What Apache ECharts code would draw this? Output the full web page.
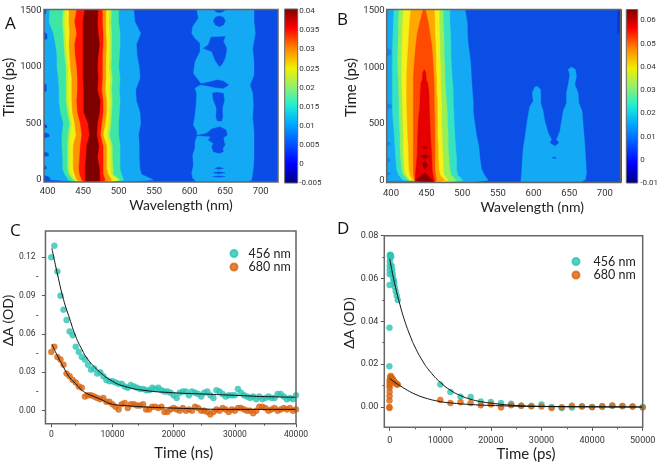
<!DOCTYPE html>
<html><head><meta charset="utf-8">
<style>html,body{margin:0;padding:0;background:#fff}#c{width:661px;height:465px}</style>
<script src="https://cdn.jsdelivr.net/npm/echarts@6/dist/echarts.min.js"></script>
</head><body><div id="c"></div>
<script>
// ---------- shared tick labels ----------
const wavelengthTicks=[400,450,500,550,600,650,700];
const timeTicks=[0,500,1000,1500];
const cbTicksA=[-0.005,0,0.005,0.01,0.015,0.02,0.025,0.03,0.035,0.04];
const cbTicksB=[-0.01,0,0.01,0.02,0.03,0.04,0.05,0.06];
const cTicksX=[0,10000,20000,30000,40000], cMinorX=[5000,15000,25000,35000];
const cTicksY=[0,0.03,0.06,0.09,0.12], cMinorY=[0.015,0.045,0.075,0.105];
const dTicksX=[0,10000,20000,30000,40000,50000], dMinorX=[5000,15000,25000,35000,45000];
const dTicksY=[0,0.02,0.04,0.06,0.08], dMinorY=[0.01,0.03,0.05,0.07];
// ---------- panel A: contour edges (nm) per time row ----------
const rowTimes=[1515,1400,1300,1200,1100,1000,900,800,700,600,500,400,300,200,100,50,0,-20];
const A1=[403,402,408,411,413,413,415,416,416,418,422,420,420,421,421,424,429,438];
const A2=[422,421,422,423,424,426,426,426,426,428,431,429,428,428,428,430,436,443];
const A2b=[425,424,425,426,427,429,429,429,429,431,434,432,431,431,431,433,439,445];
const A3=[430,430,431,430,431,432,434,434,434,435,438,440,436,436,436,438,441,448];
const A4=[441,438,441,438,439,441,442,442,441,442,446,448,446,445,444,445,448,451];
const A5=[452,450,450,450,450,450,450,451,451,451,457,459,455,454,453,453,453,455];
const A6=[471,470,471,473,471,470,471,470,474,473,470,469,472,470,473,473,474,471];
const A7=[477,477,478,478,477,477,477,476,478,478,476,474,478,478,478,478,481,476];
const A8=[482,482,482,483,482,482,482,481,483,483,481,478,483,483,483,485,490,481];
const A8b=[487,486,487,487,487,486,488,487,488,487,486,484,488,488,489,489,499,485];
const A9=[490,489,490,490,490,489,491,490,491,490,489,487,491,491,492,492,502,487];
const A10=[500,500,502,502,501,500,502,501,502,501,500,500,502,502,502,504,507,495];
const A11=[521,523,531,525,526,529,530,524,525,530,531,528,529,529,530,532,549,510];
const aRedRegion=[[609.9,1515],[612.2,1432],[604.2,1358],[602.8,1299],[607.5,1255],[614.6,1211],[614.6,1137],[607.5,1048],[605.2,945],[612.2,886],[617,847],[607.5,812],[609.9,768],[609,664],[607.5,576],[605.2,487],[609.9,434],[610.8,393],[607.5,340],[607.5,281],[604.2,221],[605.2,133],[602.8,59],[604.2,15],[609.9,-20],[680.3,-20],[687.3,0],[689.7,103],[690.6,192],[690.6,310],[690.6,428],[688.7,546],[689.7,664],[688.7,768],[685,842],[690.6,930],[690.6,1048],[688.7,1166],[692.5,1299],[690.6,1403],[690.6,1515]];
const aIslands=[
 [[633.4,1515],[637,1491],[642.7,1482],[648.4,1497],[651.2,1515]],
 [[633.4,1409],[636.2,1441],[641.8,1453],[647.4,1441],[650.3,1409],[647.4,1373],[641.8,1358],[636.2,1373]],
 [[630,1264],[649.8,1270],[647.4,1226],[651.2,1181],[652.1,1152],[649.8,1078],[645,1019],[641.8,1004],[635.7,1063],[631,1137],[619.3,1166],[626.3,1196]],
 [[612.2,847],[626.3,865],[638,886],[647.4,877],[654.9,842],[647.4,812],[635.7,818],[626.3,833]],
 [[632,768],[638,777],[647.4,768],[648.8,709],[646,635],[646.5,561],[645,523],[639,523],[637.1,561],[638,635],[633.4,709]],
 [[624,413],[631,452],[642.7,472],[651.2,443],[653,399],[647.4,375],[648.4,340],[649.8,310],[646.5,281],[647.4,251],[641.8,236],[633.4,251],[631,295],[633.4,325],[626.3,354],[629.6,384]],
 [[609.9,393],[628,418],[630,385]],
 [[635.7,103],[641,112],[647.4,103],[641,94]],
 [[633.4,63],[641,72],[649.8,63],[641,54]],
 [[632,30],[641,36],[650,30],[641,24]],
 // left edge blobs
 [[394,1515],[398,1515],[397,1470],[394,1465]],
 [[394,1314],[399,1290],[399,1250],[394,1240]],
 [[394,870],[398,840],[398,790],[394,770]],
 [[394,502],[399,480],[399,465],[394,458]],
 [[394,422],[402,405],[402,385],[394,369]],
 [[394,251],[401,235],[401,215],[394,207]],
 [[394,133],[398,118],[398,100],[394,89]],
 [[394,44],[402,25],[404,-2],[425,-12],[438,-20],[394,-20]]
];
// ---------- panel B: contour edges (nm) per time row ----------
const B1=[404.2,403.3,402.8,402.3,401.9,401.9,401.9,401.9,401.9,402.3,403.3,404.7,405.6,406.5,407.9,410.3,417.3,431.3];
const B2=[411.2,410.3,410.3,409.8,409.3,409.3,410.3,410.7,411.2,411.2,411.7,412.6,412.6,413.5,415,417.3,424.3,436];
const B3=[417.3,416.4,415.9,415.4,415,415,415,415.4,415.9,416.4,416.8,417.3,417.3,417.8,418.7,420.6,426.6,438.3];
const B4=[428,426.2,425.2,424.3,423.4,422.4,422,422,422,422.4,422.9,423.4,424.3,424.8,425.2,426.6,431.3,440.6];
const B5=[445.3,440.6,436.9,435,433.6,432.2,431.3,431.3,431.3,431.3,431.3,431.3,431.3,431.3,431.3,431.8,433.6,443];
const B7=[448.1,452.3,454.6,457,458.4,459.3,460.2,460.7,460.7,461.2,461.6,461.6,461.6,461.6,461.6,462.6,464,454.6];
const B8=[460.7,461.6,461.6,462.6,463,463,464,464,464.9,464.9,465.4,465.4,466.3,466.3,467.3,468.7,475.7,461.6];
const B9=[467.7,467.7,468.2,468.7,468.7,469.6,469.6,470,471,471,471,471.9,471.9,473.3,473.3,474.7,480.3,468.7];
const B10=[473.3,473.3,474.3,474.7,474.7,475.7,475.7,476.6,478,478.9,479.4,480.3,480.3,481.3,482.7,484.1,492,475.7];
const B11=[482.7,482.7,483.6,484.1,484.1,485,485.9,487.3,487.3,488.3,488.7,489.7,490.6,492,492,493.4,501.3,482.7];
const B12=[503.7,507,507.4,508.4,510.7,512.1,513,514,515.4,515.4,517.7,520,523.3,524.7,527,530.8,536.4,505];
const bRed=[[446.7,979],[444.4,950],[443.9,891],[442,862],[441.1,788],[440.6,671],[438.3,523],[437.4,376],[436.9,229],[434.6,82],[433.6,-20],[461.6,-20],[460.7,0],[457.9,82],[457,229],[455.6,376],[454.6,523],[453.7,671],[453.2,788],[451.4,862],[449.5,891],[449,950]];
const bDark=[
 [[443.9,291],[447.6,303],[451.4,291],[447.6,279]],
 [[442,212],[447.6,229],[453.2,212],[447.6,194]],
 [[444,145],[447.6,176],[451.4,135],[447.6,97]],
 [[447.6,68],[454.6,24],[461.6,-20],[431.3,-20],[439.2,24]]
];
const bPeaks=[[582.2,-12],[582.2,0],[583.2,68],[584.1,171],[585.5,288],[587.8,376],[591.1,523],[593.4,612],[594.8,656],[599.5,700],[598.1,773],[601.8,826],[605.1,832],[609.8,803],[610.2,729],[610.2,676],[613.5,612],[615.8,523],[620.5,421],[625.2,362],[622.8,332],[629.9,303],[635.9,332],[632.2,362],[636.9,435],[641.5,612],[646.2,685],[646.2,773],[648.5,847],[650.9,935],[648.5,979],[653.2,1003],[658.8,979],[660.2,920],[657.9,847],[662.5,773],[663.5,685],[668.1,612],[669.5,494],[671.9,318],[673.3,171],[674.2,68],[672.8,9],[667.2,-12]];
const bBlueDash=[[626,200],[629,205],[632,200],[629,195]];
const bEdgeBlobs=[
 [[394,1170],[400,1150],[400,1115],[394,1097]],
 [[394,685],[401,665],[401,645],[394,626]],
 [[394,345],[399,330],[399,320],[394,305]],
 [[394,200],[399,185],[399,175],[394,160]],
 [[394,80],[399,65],[399,55],[394,40]],
 [[394,-5],[430,-5],[445,-20],[394,-20]]
];
const bCorner=[[718,1515],[722,1515],[720,1300],[718,1300]];
// ---------- panel C ----------
const cTime=[0,500,1000,1500,2000,2500,3000,3500,4000,4500,5000,5500,6000,6500,7000,7500,8000,8500,9000,9500,10000,10500,11000,11500,12000,12500,13000,13500,14000,14500,15000,15500,16000,16500,17000,17500,18000,18500,19000,19500,20000,20500,21000,21500,22000,22500,23000,23500,24000,24500,25000,25500,26000,26500,27000,27500,28000,28500,29000,29500,30000,30500,31000,31500,32000,32500,33000,33500,34000,34500,35000,35500,36000,36500,37000,37500,38000,38500,39000,39500,40000];
const c456=[.120,.129,.109,.090,.079,.071,.062,.059,.050,.046,.042,.040,.036,.032,.033,.029,.030,.027,.024,.023,.023,.022,.021,.021,.019,.018,.020,.019,.018,.017,.017,.016,.016,.018,.017,.018,.016,.015,.015,.014,.012,.010,.014,.015,.015,.012,.015,.014,.013,.011,.014,.015,.012,.010,.016,.015,.013,.011,.012,.012,.012,.017,.014,.012,.011,.010,.011,.009,.011,.009,.010,.011,.010,.010,.013,.013,.011,.009,.010,.009,.012];
const c680=[.046,.050,.042,.040,.036,.029,.027,.024,.022,.019,.018,.011,.012,.012,.011,.010,.009,.010,.007,.007,.005,.003,.001,.005,.006,.002,.005,.005,.004,.004,.005,.001,.001,.003,.003,.002,.003,-.001,-.001,.001,.002,.001,0,.002,0,.001,0,.003,.002,0,0,-.001,-.003,-.001,.001,0,.002,.001,-.001,.001,0,.002,.002,.001,0,0,-.002,0,.003,.003,.002,0,.001,.002,0,.001,.002,.001,.002,0,.001];
const cFit456X=[100,1000,2000,3000,4000,5000,6000,8000,10000,12000,15000,20000,25000,30000,35000,40000];
const cFit456=[.127,.107,.087,.072,.058,.048,.040,.030,.023,.019,.016,.014,.013,.012,.011,.0105];
const cFit680X=[100,1000,2000,3000,4000,5000,6000,7000,8000,10000,12000,15000,20000,30000,40000];
const cFit680=[.052,.043,.034,.026,.021,.016,.013,.011,.009,.005,.004,.003,.002,.001,.001];
// ---------- panel D ----------
const d456T=[-60,-40,-20,-10,0,10,20,30,50,100,200,300,400,500,600,700,800,900,1000,1200,1400,1600,10000,12000,14000,16000,18000,20000,22000,24000,26000,28000,30000,32000,34000,36000,38000,40000,42000,44000,46000,48000,50000];
const d456=[.019,.037,.057,.062,.064,.066,.068,.070,.071,.071,.071,.070,.066,.064,.062,.060,.059,.058,.056,.054,.052,.050,.0105,.007,.0048,.0047,.0025,.0023,.0018,.0015,.0006,.0005,.0012,0,-.0005,-.0003,.0003,0,0,.0005,.0003,.0002,0];
const d680T=[-60,-50,-40,-30,-20,-10,0,10,20,40,60,100,200,300,400,500,600,700,800,1000,1200,1400,1600,10000,12000,14000,16000,18000,20000,22000,24000,26000,28000,30000,32000,34000,36000,38000,40000,42000,44000,46000,48000,50000];
const d680=[0,-.0005,.003,.005,.007,.009,.010,.011,.012,.0125,.013,.014,.0145,.014,.0135,.013,.013,.0125,.012,.0115,.011,.0105,.0105,.0033,.0018,.0022,.0018,.0008,.0012,-.0002,.0008,.0006,.0003,.0002,-.0005,-.0001,.0006,.0002,-.0001,.0004,.0007,.0005,.0002,-.0002];
const dFit456X=[0,1000,2000,3000,4000,5000,6500,8000,10000,12000,14000,16000,18000,21000,25000,30000,40000,50000];
const dFit456=[.0692,.0575,.0480,.0400,.0335,.0280,.0215,.0165,.0115,.0078,.0053,.0036,.0025,.0015,.0007,.0003,.0001,0];
const dFit680X=[0,1000,2000,3500,5000,7000,10000,12000,15000,20000,30000,50000];
const dFit680=[.0134,.0115,.0100,.0078,.0060,.0042,.0025,.0019,.0013,.0007,.0002,0];
// ---------- styles ----------
const colA={blue:'#0a4ce6',lb:'#14a9f5',teal:'#3de6a6',green:'#b4f040',yellow:'#f0f018',orange:'#ff9400',red:'#ff1500',dark:'#800000'};
const colB={blue:'#0a4ee6',lb:'#14a9f5',edge:'#1a84ee',teal:'#35e2c4',green:'#96f058',yellow:'#f4f018',orange:'#ffa800',redor:'#ff4a00',red:'#e60000',dark:'#900000'};
const jet=[[0,'#00007f'],[.11,'#0000ff'],[.35,'#00b0ff'],[.45,'#20f0d0'],[.55,'#90f070'],[.66,'#f0f000'],[.78,'#ff8000'],[.89,'#ff0000'],[1,'#7f0000']];
const TICK='#333', FRAME='#666', FONT='Roboto', TFONT='Lato';
const band=(L,R)=>{const l=L.map((v,j)=>[v,rowTimes[j]]),r=R.map((v,j)=>[v,rowTimes[j]]).reverse();return l.concat(r);};
const lEdge=rowTimes.map(()=>394);
const full=[[394,-20],[725,-20],[725,1515],[394,1515]];
const shapesA=[
 {p:full,c:colA.blue},{p:band(lEdge,A11),c:colA.lb},{p:aRedRegion,c:colA.lb},
 {p:band(A1,A10),c:colA.teal},{p:band(A2,A9),c:colA.green},{p:band(A2b,A8b),c:colA.yellow},{p:band(A3,A8),c:colA.orange},
 {p:band(A4,A7),c:colA.red},{p:band(A5,A6),c:colA.dark}
].concat(aIslands.map(p=>({p,c:colA.blue})));
const shapesB=[
 {p:full,c:colB.blue},{p:band(lEdge,B12),c:colB.lb},
 {p:band(B1,B11),c:colB.teal},{p:band(B2,B10),c:colB.green},{p:band(B3,B9),c:colB.yellow},
 {p:band(B4,B8),c:colB.orange},{p:band(B5,B7),c:colB.redor},{p:bRed,c:colB.red}
].concat(bDark.map(p=>({p,c:colB.dark})),bEdgeBlobs.map(p=>({p,c:colB.edge})),[{p:bPeaks,c:colB.lb},{p:bBlueDash,c:colB.blue},{p:bCorner,c:'#0a3ad0'}]);
function polySeries(shapes,ax){return {type:'custom',coordinateSystem:'cartesian2d',xAxisIndex:ax,yAxisIndex:ax,clip:true,silent:true,
  data:shapes.map((s,i)=>[s.p[0][0],s.p[0][1],i]),encode:{x:0,y:1},
  renderItem:(params,api)=>{const s=shapes[api.value(2)];return {type:'polygon',shape:{points:s.p.map(q=>api.coord(q))},style:{fill:s.c,stroke:s.c,lineWidth:.4}};}};}
function cbSeries(ax,lo,hi){return {type:'custom',coordinateSystem:'cartesian2d',xAxisIndex:ax,yAxisIndex:ax,clip:true,silent:true,
  data:[[0,lo,hi]],encode:{x:0,y:[1,2]},
  renderItem:(params,api)=>{const a=api.coord([0,api.value(1)]),b=api.coord([1,api.value(2)]);
   return {type:'rect',shape:{x:a[0],y:b[1],width:b[0]-a[0],height:a[1]-b[1]},style:{fill:{type:'linear',x:0,y:1,x2:0,y2:0,colorStops:jet.map(s=>({offset:s[0],color:s[1]}))}}};}};}
// ---------- grids and axes ----------
const grids=[],xAxes=[],yAxes=[],series=[];
function addGrid(g){grids.push(Object.assign({show:true,borderColor:FRAME,borderWidth:1.5,z:5},g));return grids.length-1;}
const lbl=(vals,size,margin,fmt)=>({customValues:vals,color:TICK,fontFamily:FONT,fontSize:size,margin,formatter:fmt||(v=>String(v))});
const f2=v=>v.toFixed(2);
const noLine={show:false,onZero:false};
function axis(idx,min,max,pos,name,gap,label,nameSize,padLeft,ticks){return {gridIndex:idx,type:'value',min,max,position:pos,
  axisLine:noLine,splitLine:{show:false},
  axisTick:ticks?{show:true,length:3.5,customValues:ticks,lineStyle:{color:'#555',width:1}}:{show:false},
  axisLabel:label,name,nameLocation:'middle',nameGap:gap,nameTextStyle:{color:'#222',fontFamily:TFONT,fontSize:nameSize,padding:[0,0,0,padLeft]}};}
function minorPair(g,xmin,xmax,ymin,ymax,mx,my){
  const idx=addGrid(Object.assign({},g,{show:false}));
  const tick=v=>({show:true,length:2,customValues:v,lineStyle:{color:'#555',width:1}});
  xAxes.push({gridIndex:idx,type:'value',min:xmin,max:xmax,position:'bottom',axisLine:noLine,splitLine:{show:false},axisLabel:{show:false},axisTick:tick(mx)});
  yAxes.push({gridIndex:idx,type:'value',min:ymin,max:ymax,position:'left',axisLine:noLine,splitLine:{show:false},axisLabel:{show:false},axisTick:tick(my)});
}
// A
let gA=addGrid({left:44,top:9.5,width:234,height:172.5});
xAxes.push(axis(gA,394.8,724.4,'bottom','Wavelength (nm)',16.5,lbl(wavelengthTicks,9.5,5),14,40));
yAxes.push(axis(gA,-18,1510,'left','Time (ps)',27.5,lbl(timeTicks,9.5,2.5),15,17));
series.push(polySeries(shapesA,gA));
// B
let gB=addGrid({left:386.7,top:9.5,width:234,height:173});
xAxes.push(axis(gB,394,722.2,'bottom','Wavelength (nm)',18,lbl(wavelengthTicks,9.5,6),14,57));
yAxes.push(axis(gB,-18,1510,'left','Time (ps)',27.7,lbl(timeTicks,9.5,2),15,17));
series.push(polySeries(shapesB,gB));
// colorbars
let gCa=addGrid({left:284.7,top:9,width:13,height:174,borderWidth:1});
xAxes.push({gridIndex:gCa,type:'value',min:0,max:1,show:false});
yAxes.push({gridIndex:gCa,type:'value',min:-0.005,max:0.0406,position:'right',axisLine:noLine,axisTick:{show:false},splitLine:{show:false},axisLabel:lbl(cbTicksA,8,1.5)});
series.push(cbSeries(gCa,-0.005,0.0406));
let gCb=addGrid({left:626.3,top:9.5,width:13,height:173.5,borderWidth:1});
xAxes.push({gridIndex:gCb,type:'value',min:0,max:1,show:false});
yAxes.push({gridIndex:gCb,type:'value',min:-0.01,max:0.0647,position:'right',axisLine:noLine,axisTick:{show:false},splitLine:{show:false},axisLabel:lbl(cbTicksB,8,2.5)});
series.push(cbSeries(gCb,-0.01,0.0647));
// scatter + fit helper
const TEAL='#2cc4b4', ORANGE='#d9640f';
function addScatter(ax,name,xs,ys,c,sz){series.push({type:'scatter',name,xAxisIndex:ax,yAxisIndex:ax,symbolSize:sz,itemStyle:{color:c,borderColor:c,borderWidth:.5},clip:false,data:xs.map((x,i)=>[x,ys[i]])});}
function addFit(ax,name,xs,ys){series.push({type:'line',name,xAxisIndex:ax,yAxisIndex:ax,smooth:true,showSymbol:false,lineStyle:{color:'#111',width:1},z:4,data:xs.map((x,i)=>[x,ys[i]])});}
// C
const rectC={left:38.3,top:231,width:257.7,height:192.7};
let gC=addGrid(rectC);
xAxes.push(axis(gC,-950,40000,'bottom','Time (ns)',21.5,lbl(cTicksX,8.5,6.5),15,26,cTicksX));
yAxes.push(axis(gC,-0.0102,0.1406,'left','ΔA (OD)',21,lbl(cTicksY,8.5,10,f2),14,14,cTicksY));
addScatter(gC,'456 nm',cTime,c456,TEAL,6); addScatter(gC,'680 nm',cTime,c680,ORANGE,6);
addFit(gC,'fit456c',cFit456X,cFit456); addFit(gC,'fit680c',cFit680X,cFit680);
// D
const rectD={left:384.3,top:235.7,width:258.4,height:191.6};
let gD=addGrid(rectD);
xAxes.push(axis(gD,-1067,50000,'bottom','Time (ps)',19.5,lbl(dTicksX,9,8.5),15,25,dTicksX));
yAxes.push(axis(gD,-0.0095,0.08,'left','ΔA (OD)',25,lbl(dTicksY,9,6,f2),14,17,dTicksY));
addScatter(gD,'456 nm',d456T,d456,TEAL,6); addScatter(gD,'680 nm',d680T,d680,ORANGE,6);
addFit(gD,'fit456d',dFit456X,dFit456); addFit(gD,'fit680d',dFit680X,dFit680);
// minor ticks live on overlay grids so they stay on the bottom/left sides
minorPair(rectC,-950,40000,-0.0102,0.1406,cMinorX,cMinorY);
minorPair(rectD,-1067,50000,-0.0095,0.08,dMinorX,dMinorY);
const panelLabels=['A','B','C','D'];
const lab={color:'#111',fontFamily:'"Open Sans"',fontSize:17,fontWeight:'normal'};
const legendText=pad=>({color:'#222',fontFamily:TFONT,fontSize:12.5,padding:[0,0,0,pad]});
const option={animation:false,backgroundColor:'#fff',
 textStyle:{fontFamily:FONT},
 grid:grids,xAxis:xAxes,yAxis:yAxes,series,
 legend:[
  {left:224.5,top:242,orient:'vertical',icon:'circle',itemWidth:7,itemHeight:7,itemGap:0.5,selectedMode:false,data:['456 nm','680 nm'],textStyle:legendText(6)},
  {left:566.5,top:250,orient:'vertical',icon:'circle',itemWidth:7,itemHeight:7,itemGap:0.5,selectedMode:false,data:['456 nm','680 nm'],textStyle:legendText(9)}
 ],
 title:[
  {text:panelLabels[0],left:5,top:15.5,textStyle:lab,padding:0},
  {text:panelLabels[1],left:337,top:11.5,textStyle:lab,padding:0},
  {text:panelLabels[2],left:10,top:222.5,textStyle:lab,padding:0},
  {text:panelLabels[3],left:337,top:220.5,textStyle:lab,padding:0}
 ]};
echarts.init(document.getElementById('c'),null,{renderer:'canvas'}).setOption(option);
</script></body></html>
